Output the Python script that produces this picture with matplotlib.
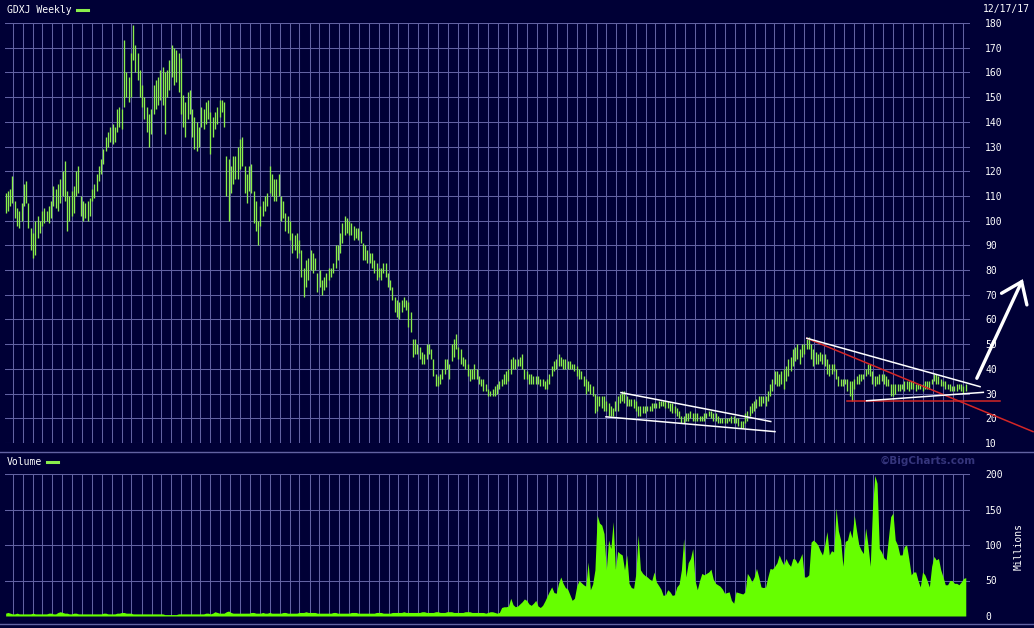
import pandas as pd
import matplotlib
matplotlib.use("Agg")
import matplotlib.pyplot as plt
import matplotlib.dates as mdates
from matplotlib.lines import Line2D

# GDXJ weekly bars, first week 2009-11-09
start = "2009-11-09"

high = [
    111, 112, 113, 118, 108, 105, 104, 107, 115, 116,
    107, 97, 95, 100, 102, 100, 104, 105, 104, 106,
    108, 114, 113, 115, 117, 120, 124, 112, 110, 112,
    114, 120, 122, 110, 108, 107, 108, 109, 113, 115,
    119, 122, 125, 129, 134, 136, 138, 139, 138, 145,
    146, 145, 173, 160, 158, 168, 179, 171, 168, 161,
    155, 150, 146, 143, 145, 155, 157, 158, 161, 162,
    160, 161, 165, 171, 170, 169, 168, 166, 151, 148,
    152, 153, 145, 142, 140, 138, 146, 145, 148, 149,
    144, 142, 144, 146, 149, 149, 148, 126, 125, 122,
    126, 126, 130, 133, 134, 122, 119, 122, 123, 112,
    108, 100, 106, 108, 110, 111, 122, 119, 117, 117,
    119, 110, 108, 103, 102, 100, 95, 94, 95, 92,
    88, 81, 84, 85, 88, 87, 85, 79, 80, 76,
    77, 79, 81, 81, 83, 90, 90, 95, 99, 102,
    101, 100, 99, 98, 97, 97, 96, 91, 90, 88,
    87, 87, 84, 83, 81, 81, 83, 83, 79, 76,
    73, 69, 68, 67, 68, 69, 68, 67, 63, 52,
    52, 50, 49, 47, 46, 50, 50, 48, 44, 38,
    37, 38, 40, 44, 44, 42, 50, 52, 54, 49,
    48, 45, 44, 42, 40, 40, 42, 40, 37, 36,
    36, 34, 32, 31, 32, 33, 34, 35, 36, 38,
    39, 40, 44, 45, 44, 44, 45, 46, 40, 39,
    38, 38, 37, 37, 37, 36, 36, 35, 36, 38,
    41, 43, 44, 46, 45, 44, 44, 43, 43, 42,
    42, 41, 40, 39, 37, 36, 35, 34, 33, 30,
    29, 29, 29, 29, 27, 26, 25, 24, 27, 29,
    30, 31, 31, 29, 28, 28, 28, 27, 25, 25,
    25, 25, 25, 25, 26, 26, 26, 27, 27, 27,
    27, 27, 26, 26, 25, 24, 23, 21, 21, 22,
    22, 23, 22, 22, 22, 21, 21, 22, 22, 23,
    23, 22, 22, 21, 20, 20, 20, 20, 20, 21,
    21, 20, 20, 19, 19, 22, 23, 25, 26, 27,
    28, 29, 29, 29, 29, 31, 34, 36, 39, 39,
    38, 39, 40, 41, 44, 45, 48, 49, 50, 48,
    50, 50, 52, 53, 50, 48, 47, 46, 47, 46,
    46, 44, 42, 42, 42, 40, 37, 36, 36, 36,
    36, 35, 35, 36, 37, 38, 38, 38, 40, 42,
    42, 39, 37, 37, 38, 38, 38, 37, 36, 34,
    34, 34, 34, 34, 34, 35, 35, 35, 35, 35,
    34, 34, 34, 34, 35, 35, 35, 36, 38, 38,
    37, 36, 35, 35, 34, 34, 33, 33, 34, 34,
    34, 33, 34,
]

low = [
    103, 104, 106, 107, 101, 98, 97, 100, 106, 107,
    97, 88, 85, 86, 93, 95, 98, 99, 100, 99,
    101, 106, 105, 104, 107, 110, 108, 96, 100, 102,
    103, 110, 111, 102, 100, 101, 100, 102, 108, 109,
    112, 116, 119, 123, 128, 130, 132, 131, 132, 136,
    138, 137, 146, 150, 148, 150, 165, 160, 157, 150,
    146, 141, 136, 130, 135, 143, 145, 147, 149, 147,
    135, 150, 153, 158, 155, 156, 152, 143, 138, 134,
    141, 143, 134, 129, 128, 130, 138, 137, 139, 141,
    127, 134, 137, 139, 142, 144, 138, 110, 100, 111,
    115, 117, 117, 121, 122, 111, 107, 112, 111, 99,
    96, 90, 98, 102, 104, 106, 111, 110, 108, 108,
    110, 100, 101, 96, 95, 92, 87, 88, 85, 87,
    77, 69, 73, 76, 80, 79, 80, 71, 73, 70,
    72, 73, 76, 77, 79, 81, 84, 87, 91, 94,
    95, 94, 94, 92, 93, 92, 91, 84, 84, 83,
    83, 81, 79, 76, 77, 76, 79, 77, 73, 72,
    68, 63, 61, 60, 63, 65, 64, 57, 55, 45,
    46, 46, 44, 42, 42, 44, 46, 44, 37, 33,
    33, 34, 36, 38, 40, 36, 43, 45, 48, 44,
    42, 41, 40, 37, 35, 36, 36, 36, 34, 33,
    31, 31, 29, 29, 29, 29, 30, 32, 33, 34,
    34, 35, 38, 40, 40, 41, 41, 40, 36, 36,
    34, 34, 34, 34, 34, 33, 33, 32, 32, 34,
    37, 39, 40, 41, 41, 40, 40, 40, 40, 40,
    39, 37, 36, 36, 33, 30, 31, 30, 29, 22,
    23, 25, 24, 23, 23, 21, 21, 21, 23, 23,
    26, 27, 26, 25, 25, 25, 24, 23, 21, 21,
    22, 22, 23, 23, 23, 24, 24, 24, 25, 25,
    24, 24, 23, 22, 22, 21, 20, 18, 18, 19,
    19, 20, 19, 19, 19, 19, 19, 19, 20, 21,
    20, 19, 19, 18, 18, 18, 18, 18, 19, 18,
    18, 18, 17, 16, 16, 18, 19, 21, 22, 23,
    24, 25, 25, 26, 25, 27, 29, 31, 34, 33,
    33, 34, 32, 35, 37, 39, 41, 43, 44, 42,
    45, 46, 48, 48, 44, 41, 42, 42, 43, 42,
    41, 38, 37, 38, 39, 36, 33, 33, 33, 34,
    31, 29, 27, 32, 34, 34, 35, 36, 37, 38,
    37, 34, 33, 34, 34, 35, 34, 33, 33, 29,
    29, 30, 31, 31, 32, 31, 32, 31, 32, 32,
    31, 32, 32, 31, 32, 32, 32, 34, 35, 34,
    34, 33, 33, 32, 32, 31, 31, 31, 31, 32,
    31, 30, 31,
]

# weekly volume, millions
volume = [
    4, 5, 4, 3, 3, 4, 3, 3, 3, 3,
    3, 3, 4, 3, 3, 3, 3, 3, 3, 4,
    4, 3, 3, 5, 6, 5, 4, 4, 3, 3,
    4, 4, 3, 3, 3, 3, 3, 3, 3, 3,
    3, 3, 3, 4, 4, 3, 3, 3, 3, 4,
    4, 5, 5, 4, 4, 4, 3, 3, 3, 3,
    3, 3, 3, 3, 3, 3, 3, 3, 3, 3,
    2, 2, 2, 2, 2, 2, 3, 3, 3, 3,
    3, 3, 3, 3, 3, 3, 3, 3, 4, 4,
    3, 4, 6, 5, 4, 4, 4, 6, 7, 5,
    4, 4, 4, 4, 4, 4, 4, 4, 5, 5,
    4, 4, 4, 5, 4, 4, 5, 4, 4, 4,
    4, 4, 5, 5, 4, 4, 4, 4, 4, 5,
    5, 5, 6, 5, 5, 5, 5, 4, 4, 4,
    4, 4, 4, 4, 5, 5, 4, 4, 4, 4,
    4, 4, 5, 5, 5, 4, 4, 4, 4, 4,
    4, 4, 4, 5, 5, 5, 4, 4, 4, 4,
    5, 5, 5, 5, 5, 6, 5, 5, 5, 5,
    5, 5, 5, 6, 6, 5, 5, 5, 5, 6,
    6, 5, 5, 5, 6, 6, 6, 5, 5, 5,
    5, 5, 6, 6, 6, 5, 5, 5, 5, 5,
    5, 4, 5, 6, 6, 5, 4, 5, 12, 13,
    13, 14, 25, 16, 13, 14, 17, 20, 24, 22,
    17, 15, 18, 22, 14, 12, 15, 21, 28, 35,
    41, 33, 32, 46, 55, 46, 40, 38, 30, 22,
    25, 42, 50, 47, 44, 42, 76, 37, 45, 65,
    142, 131, 128, 116, 65, 107, 95, 133, 66, 91,
    88, 86, 65, 86, 46, 40, 39, 60, 114, 65,
    60, 57, 55, 52, 50, 62, 48, 43, 38, 29,
    30, 37, 34, 29, 30, 41, 45, 65, 109, 55,
    75, 81, 95, 50, 37, 50, 60, 58, 60, 62,
    66, 52, 46, 44, 42, 38, 32, 33, 34, 22,
    18, 34, 33, 32, 31, 34, 60, 55, 48, 55,
    67, 55, 41, 40, 41, 55, 67, 66, 70, 75,
    86, 78, 72, 81, 74, 70, 81, 80, 74, 80,
    88, 55, 55, 58, 104, 107, 104, 100, 92, 86,
    100, 119, 86, 92, 90, 152, 120, 107, 70, 105,
    107, 121, 110, 142, 120, 100, 93, 88, 124, 100,
    70, 152, 198, 187, 95, 90, 82, 79, 110, 140,
    145, 107, 100, 86, 86, 98, 100, 80, 58, 62,
    62, 50, 41, 62, 58, 50, 41, 70, 84, 79,
    81, 65, 55, 44, 44, 50, 50, 46, 46, 44,
    48, 53, 54,
]

price_ticks = list(range(10, 181, 10))
vol_ticks = [0, 50, 100, 150, 200]

# hand drawn trend lines on the chart: (date, price) end points
white_lines = [
    [("2015-01-15", 30.4), ("2016-04-20", 18.7)],
    [("2014-11-30", 20.6), ("2016-05-03", 14.6)],
    [("2016-08-09", 52.4), ("2018-01-24", 32.8)],
    [("2017-02-09", 27.1), ("2018-02-03", 30.5)],
]
red_lines = [
    [("2016-08-09", 52.4), ("2018-07-06", 14.6)],
    [("2016-12-10", 26.8), ("2018-03-27", 26.8)],
]
arrow_shaft = [("2018-01-14", 36.2), ("2018-06-01", 75.3)]
arrow_head = [("2018-03-31", 70.6), ("2018-06-01", 75.3), ("2018-06-17", 65.9)]

W, H = 1034, 628
bg = "#000036"
grid_c = "#6262a2"
bar_c = "#8aee4c"
vol_c = "#66ff00"

plt.rcParams["font.family"] = ["DejaVu Sans Mono"]

dates = pd.date_range(start, periods=len(high), freq="7D")
x0, x1 = pd.Timestamp("2009-11-07"), pd.Timestamp("2017-12-24")

fig = plt.figure(figsize=(W / 100, H / 100), dpi=100, facecolor=bg)
ax = fig.add_axes([5 / W, 1 - 443 / H, 965 / W, 420 / H], facecolor=bg)
axv = fig.add_axes([5 / W, 1 - 616 / H, 965 / W, 142 / H], facecolor=bg)

for a in (ax, axv):
    a.set_xlim(x0, x1)
    a.xaxis.set_major_locator(mdates.MonthLocator())
    a.grid(True, color=grid_c, lw=0.75)
    a.set_axisbelow(True)
    for s in a.spines.values():
        s.set_visible(False)
    a.yaxis.tick_right()
    a.tick_params(axis="x", length=0, labelbottom=False)
    a.tick_params(axis="y", length=0, pad=11, labelsize=7, labelcolor="white")

# price bars
ax.vlines(dates, low, high, color=bar_c, lw=0.95)
ax.set_ylim(10, 180)
ax.set_yticks(price_ticks)

# volume area
axv.fill_between(dates, 0, volume, color=vol_c, lw=0)
axv.set_ylim(0, 200)
axv.set_yticks(vol_ticks)

# trend lines
def seg(pts):
    return pd.to_datetime([p[0] for p in pts]), [p[1] for p in pts]

for ln in red_lines:
    xs, ys = seg(ln)
    ax.plot(xs, ys, color="#d42626", lw=1.1, clip_on=False)
for ln in white_lines:
    xs, ys = seg(ln)
    ax.plot(xs, ys, color="white", lw=1.1, clip_on=False)
xs, ys = seg(arrow_shaft)
ax.plot(xs, ys, color="white", lw=2.4, clip_on=False, solid_capstyle="round")
xs, ys = seg(arrow_head)
ax.plot(xs, ys, color="white", lw=2.4, clip_on=False,
        solid_capstyle="round", solid_joinstyle="miter")

# labels and frame
def fx(x):
    return x / W

def fy(y):
    return 1 - y / H

fig.text(fx(7), fy(10), "GDXJ Weekly", color="white", fontsize=7, va="center")
fig.add_artist(Line2D([fx(77), fx(88)], [fy(10), fy(10)], color=bar_c, lw=2.2))
fig.text(fx(983), fy(9), "12/17/17", color="white", fontsize=7, va="center")
fig.text(fx(7), fy(462), "Volume", color="white", fontsize=7, va="center")
fig.add_artist(Line2D([fx(47), fx(58)], [fy(462), fy(462)], color=bar_c, lw=2.2))
fig.text(fx(880), fy(461), "\u00a9BigCharts.com", color="#35357c", fontsize=7.5,
         fontweight="bold", family="DejaVu Sans", va="center")
fig.text(fx(1019), fy(547), "Millions", color="white", fontsize=7,
         rotation=90, ha="center", va="center")
fig.add_artist(Line2D([0, 1], [fy(452), fy(452)], color=grid_c, lw=1.0))
fig.add_artist(Line2D([0, 1], [fy(624), fy(624)], color=grid_c, lw=1.0))

fig.savefig("out.png", dpi=100, facecolor=bg)
